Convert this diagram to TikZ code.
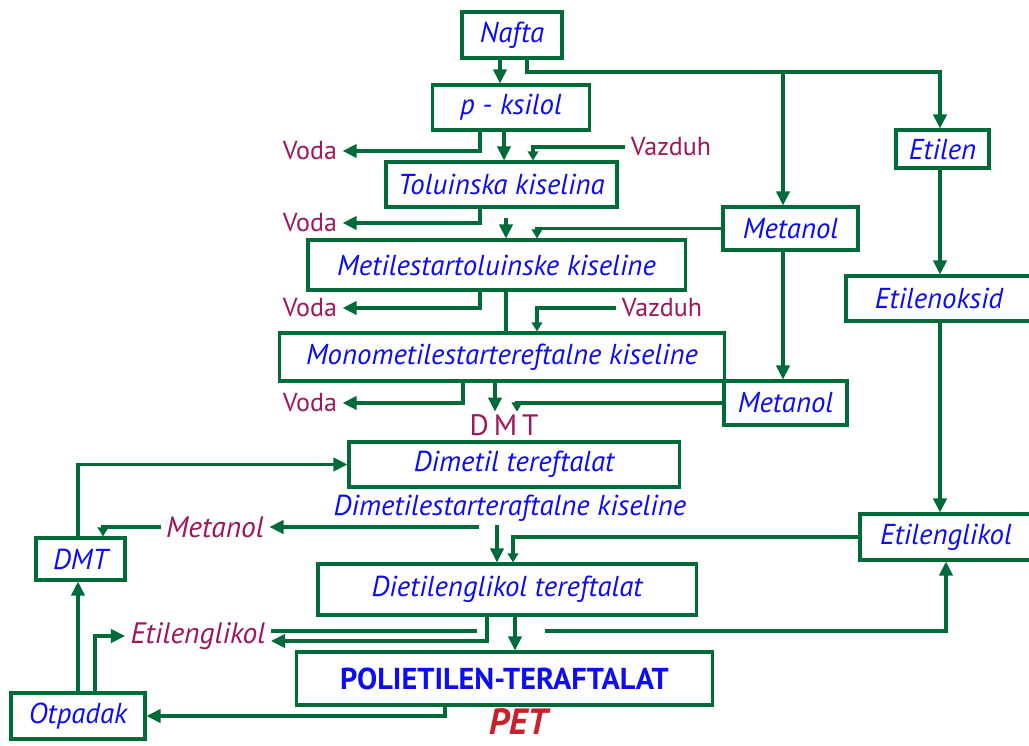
\documentclass[tikz,border=0pt]{standalone}
\usepackage{fontspec}
\setmainfont{PT Sans}
\usetikzlibrary{arrows.meta,calc}
\definecolor{flowgreen}{RGB}{0,106,56}
\definecolor{txtblue}{RGB}{12,12,245}
\definecolor{plum}{RGB}{158,22,92}
\definecolor{petred}{RGB}{200,34,44}
\begin{document}
\begin{tikzpicture}[x=0.025cm, y=-0.025cm, line join=miter,
    box/.style={draw=flowgreen, line width=2.2pt, inner sep=0pt, text=txtblue,
      font=\itshape\fontsize{20.5}{24}\selectfont},
    prod/.style={inner sep=1pt, outer sep=2pt, text=txtblue,
      font=\itshape\fontsize{20.5}{24}\selectfont},
    side/.style={inner sep=1pt, outer sep=3pt, text=plum,
      font=\fontsize{18.5}{22}\selectfont},
    sideit/.style={side, font=\itshape\fontsize{21}{24}\selectfont},
    link/.style={draw=flowgreen, line width=2.2pt},
    flow/.style={link, -{Triangle[length=10pt, width=9.5pt]}},
    flowsm/.style={link, -{Triangle[length=6.5pt, width=7.5pt]}}]
  \useasboundingbox (0,0) rectangle (1029,745);
  % main line: nafta to DMT
  \node[box, minimum width=2.5cm, minimum height=1.15cm] (nafta) at (512,35) {Nafta};
  \node[box, minimum width=3.925cm, minimum height=1.125cm] (pks) at (511,107.5) {p - ksilol};
  \node[box, minimum width=5.775cm, minimum height=1.125cm] (tol) at (501.5,184.5) {Toluinska kiselina};
  \node[box, minimum width=9.425cm, minimum height=1.25cm] (mtk) at (496.5,265) {Metilestartoluinske kiseline};
  \node[box, minimum width=11.1cm, minimum height=1.2cm] (mmt) at (502,357) {Monometilestartereftalne kiseline};
  \node[box, minimum width=3.375cm, minimum height=1.075cm] (met1) at (790.5,228.5) {Metanol};
  \node[box, minimum width=3.075cm, minimum height=1.1cm] (met2) at (785.5,403) {Metanol};
  \node[side] (voda1) at (310,151) {Voda};
  \node[side] (voda2) at (310,223) {Voda};
  \node[side] (voda3) at (310,308) {Voda};
  \node[side] (voda4) at (310,403) {Voda};
  \node[side] (vaz1) at (671,147) {Vazduh};
  \node[side] (vaz2) at (662,308) {Vazduh};
  \node[side, inner sep=0pt, outer sep=2pt, font=\fontsize{21}{24}\selectfont] (dmtl) at (504,425) {D\,M\,T};
  % etilen branch
  \node[box, minimum width=2.325cm, minimum height=0.95cm] (etilen) at (942.5,149) {Etilen};
  \node[box, minimum width=4.65cm, minimum height=1.125cm] (etox) at (939,298.5) {Etilenoksid};
  \node[box, minimum width=4.3cm, minimum height=1.15cm] (eg) at (946,537) {Etilenglikol};
  % polymer part
  \node[box, minimum width=8.25cm, minimum height=1.125cm] (dmtt) at (514,464.5) {Dimetil tereftalat};
  \node[prod] (dest) at (510,508) {Dimetilestarteraftalne kiseline};
  \node[box, minimum width=9.45cm, minimum height=1.275cm] (deg) at (507,589.5) {Dietilenglikol tereftalat};
  \node[box, minimum width=10.375cm, minimum height=1.325cm,
    font=\bfseries\fontsize{21.5}{24}\selectfont] (petb) at (504.5,678.5) {POLIETILEN-TERAFTALAT};
  \node[text=petred, inner sep=0pt, font=\bfseries\itshape\fontsize{26}{28}\selectfont] (pet) at (518,722) {PET};
  % recycling
  \node[box, minimum width=2.225cm, minimum height=1.05cm] (dmtb) at (80.5,559) {DMT};
  \node[box, minimum width=3.35cm, minimum height=1.15cm] (otp) at (78,716) {Otpadak};
  \node[sideit] (metl) at (215,527) {Metanol};
  \node[sideit] (egl) at (198,636) {Etilenglikol};
  \coordinate (split) at (783,72);
  \coordinate (tolout) at (506,218);
  \coordinate (egret) at (545,631);
  % connectors, top
  \draw[flow] (nafta.south -| 500,0) -- (pks.north -| 500,0);
  \draw[flow] (nafta.south -| 527,0) |- (split) -| (etilen.north -| 940,0);
  \draw[flow] (split) -- (met1.north -| split);
  \draw[flow] (pks.south -| 480,0) |- (voda1);
  \draw[flow] (pks.south -| 504,0) -- (tol.north -| 504,0);
  \draw[flowsm] (vaz1.west) -| (tol.north -| 533,0);
  \draw[flow] (tol.south -| 480,0) |- (voda2);
  \draw[flow] (tolout) -- (mtk.north -| tolout);
  \draw[flowsm] (met1.west) -| (mtk.north -| 537,0);
  \draw[flow] (mtk.south -| 480,0) |- (voda3);
  \draw[link] (mtk.south -| 506,0) -- (mmt.north -| 506,0);
  \draw[flowsm] (vaz2.west) -| (mmt.north -| 537,0);
  \draw[flow] (mmt.south -| 463,0) |- (voda4);
  \draw[flow] (mmt.south -| 495,0) -- (dmtl.north -| 495,0);
  \draw[flowsm] (met2.west) -| (dmtl.north -| 517,0);
  \draw[flow] (met1.south -| split) -- (met2.north -| split);
  \draw[flow] (etilen.south -| 940,0) -- (etox.north -| 940,0);
  \draw[flow] (etox.south -| 940,0) -- (eg.north -| 940,0);
  % connectors, bottom
  \draw[flowsm] (eg.west) -| (deg.north -| 513,0);
  \draw[flow] (dest.south -| 497,0) -- (deg.north -| 497,0);
  \draw[flow] (dest.south -| 477,0) |- (metl);
  \draw[flowsm] (metl.west) -| (dmtb.north -| 103,0);
  \draw[flow] (dmtb.north -| 78,0) |- (dmtt.west);
  \draw[flow] (otp.north -| 78,0) -- (dmtb.south -| 78,0);
  \draw[flow] (otp.north -| 95,0) |- (egl);
  \draw[flow] (deg.south -| 487,0) |- ($(egl.east)+(0,5)$);
  \draw[link] ($(egl.east)+(0,-5)$) -- (477,631);
  \draw[flow] (deg.south -| 515,0) -- (petb.north -| 515,0);
  \draw[flow] (egret) -| (eg.south);
  \draw[flow] (petb.south -| 445,0) |- (otp.east);
\end{tikzpicture}
\end{document}
